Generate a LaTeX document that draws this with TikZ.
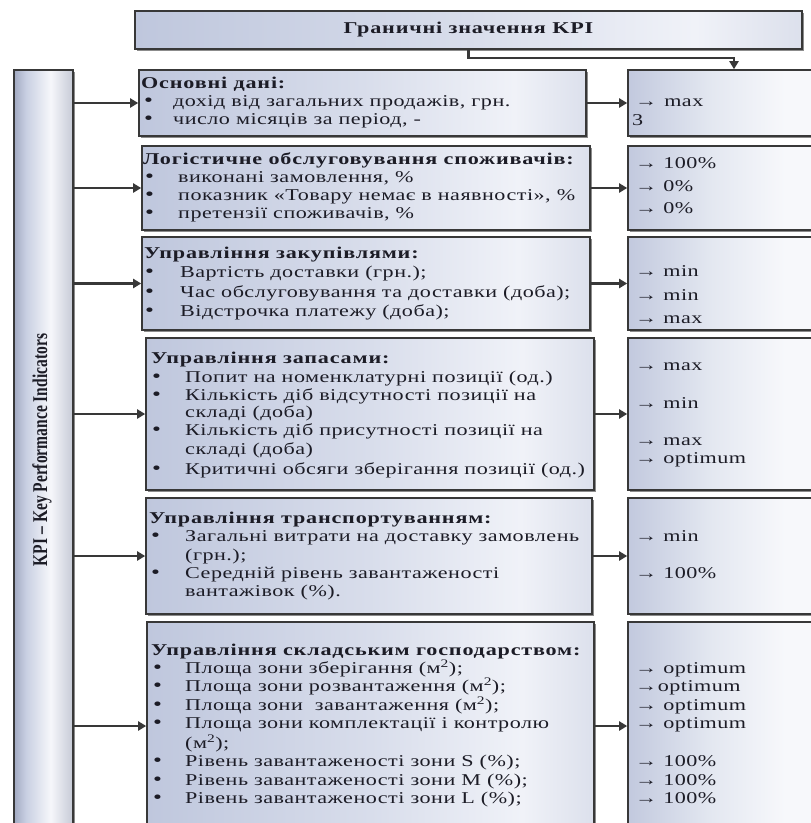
\documentclass[tikz,border=0pt]{standalone}
\usepackage{fontspec}
\setmainfont{Liberation Serif}
\newfontfamily\bxf[FakeStretch=1.34,LetterSpace=3]{Liberation Serif}
\newfontfamily\bbf[FakeStretch=1.34,LetterSpace=5]{Liberation Serif Bold}
\newfontfamily\kpif[FakeStretch=0.74]{Liberation Serif Bold}
\usetikzlibrary{arrows.meta,shadows}
\definecolor{ink}{HTML}{1C1C26}
\definecolor{edge}{HTML}{383838}
\definecolor{mA}{HTML}{BFC7DD}
\definecolor{mB}{HTML}{D8DDEB}
\definecolor{mC}{HTML}{F0F2F8}
\definecolor{mD}{HTML}{DCE0EC}
\definecolor{tA}{HTML}{A2AAC2}
\definecolor{tB}{HTML}{C8CFE2}
\definecolor{tC}{HTML}{F6F7FB}
\definecolor{tD}{HTML}{C6CAD6}
\definecolor{rA}{HTML}{C2C9DE}
\definecolor{rB}{HTML}{E4E8F1}
\definecolor{rC}{HTML}{F7F8FB}
\pgfdeclarehorizontalshading{mainsh}{100bp}{color(0bp)=(mA); color(25bp)=(mA); color(50bp)=(mB); color(67bp)=(mC); color(75bp)=(mD); color(100bp)=(mD)}
\pgfdeclarehorizontalshading{tallsh}{100bp}{color(0bp)=(tA); color(25bp)=(tA); color(35bp)=(tB); color(56bp)=(tC); color(75bp)=(tD); color(100bp)=(tD)}
\pgfdeclarehorizontalshading{rightsh}{100bp}{color(0bp)=(rA); color(25bp)=(rA); color(45bp)=(rB); color(62bp)=(rC); color(100bp)=(rC)}
\tikzset{
  box/.style={draw=edge, line width=1.6pt, shading=mainsh, inner sep=0pt,
    drop shadow={shadow xshift=1.5pt, shadow yshift=-1.5pt, opacity=0.45, fill=black}},
  tallbox/.style={box, shading=tallsh},
  rbox/.style={box, shading=rightsh},
  arr/.style={draw=edge, line width=2.2pt, -{Triangle[length=8pt,width=9pt]}},
  txt/.style={font=\bxf\fontsize{16.5}{19}\selectfont, text=ink, inner sep=0pt,
    anchor=west, text height=11pt, text depth=3.5pt},
  ttl/.style={txt, font=\bbf\fontsize{16.5}{19}\selectfont},
  bul/.style={txt, font=\bxf\fontsize{19}{19}\selectfont},
}
\begin{document}
\begin{tikzpicture}[x=1pt,y=-1pt]
\useasboundingbox (0,0) rectangle (811,823);
\clip (0,0) rectangle (811,823);
\fill[white] (0,0) rectangle (811,823);
% boxes
\node[box, minimum width=667pt, minimum height=38pt] (top) at (468.5,30) {};
\node[tallbox, minimum width=59pt, minimum height=760pt] (L) at (43.5,450) {};
\node[box, minimum width=447pt, minimum height=66pt]  (b1) at (362.5,103) {};
\node[box, minimum width=448pt, minimum height=84pt]  (b2) at (366,188) {};
\node[box, minimum width=448pt, minimum height=93pt]  (b3) at (366,283.5) {};
\node[box, minimum width=448pt, minimum height=152pt] (b4) at (370,414) {};
\node[box, minimum width=446pt, minimum height=116pt] (b5) at (369,556) {};
\node[box, minimum width=447pt, minimum height=208pt] (b6) at (370.5,726) {};
\node[rbox, minimum width=212pt, minimum height=66pt]  (r1) at (734,103) {};
\node[rbox, minimum width=212pt, minimum height=84pt]  (r2) at (734,188) {};
\node[rbox, minimum width=212pt, minimum height=93pt]  (r3) at (734,283.5) {};
\node[rbox, minimum width=212pt, minimum height=152pt] (r4) at (734,414) {};
\node[rbox, minimum width=212pt, minimum height=116pt] (r5) at (734,556) {};
\node[rbox, minimum width=212pt, minimum height=208pt] (r6) at (734,726) {};
% connectors
\draw[arr] (top.south) -- ++(0,8) -| (r1.north);
\foreach \b in {b1,b2,b3,b4,b5,b6}{
  \draw[arr] (L.east |- \b.west) -- (\b.west);
}
\foreach \i in {1,...,6}{
  \draw[arr] (b\i.east) -- (r\i.west);
}
% texts
\node[ttl, anchor=center] (toptxt) at (top) {Граничні значення KPI};
\node[rotate=90, font=\kpif\fontsize{21}{24}\selectfont, text=ink, inner sep=0pt] (kpi) at (42,450) {KPI – Key Performance Indicators};
% box 1
\node[ttl] (t1) at (141,85) {Основні дані:};
\node[bul] (t1b1) at (144,103) {•};
\node[txt] (t1a) at (173,103) {дохід від загальних продажів, грн.};
\node[bul] (t1b2) at (144,121) {•};
\node[txt] (t1c) at (173,121) {число місяців за період, -};
% box 2
\node[ttl] (t2) at (143,161) {Логістичне обслуговування споживачів:};
\node[bul] (t2b1) at (145,179) {•};
\node[txt] (t2a) at (178,179) {виконані замовлення, \%};
\node[bul] (t2b2) at (145,197) {•};
\node[txt] (t2c) at (178,197) {показник «Товару немає в наявності», \%};
\node[bul] (t2b3) at (145,215) {•};
\node[txt] (t2d) at (178,215) {претензії споживачів, \%};
% box 3
\node[ttl] (t3) at (144,255) {Управління закупівлями:};
\node[bul] (t3b1) at (145,274) {•};
\node[txt] (t3a) at (180,274) {Вартість доставки (грн.);};
\node[bul] (t3b2) at (145,294) {•};
\node[txt] (t3c) at (180,294) {Час обслуговування та доставки (доба);};
\node[bul] (t3b3) at (145,313) {•};
\node[txt] (t3d) at (180,313) {Відстрочка платежу (доба);};
% box 4
\node[ttl] (t4) at (151,360) {Управління запасами:};
\node[bul] (t4b1) at (152,379) {•};
\node[txt] (t4a) at (185,379) {Попит на номенклатурні позиції (од.)};
\node[bul] (t4b2) at (152,397) {•};
\node[txt] (t4c) at (185,397) {Кількість діб відсутності позиції на};
\node[txt] (t4d) at (185,414) {складі (доба)};
\node[bul] (t4b3) at (152,432) {•};
\node[txt] (t4e) at (185,432) {Кількість діб присутності позиції на};
\node[txt] (t4f) at (185,451) {складі (доба)};
\node[bul] (t4b4) at (152,471) {•};
\node[txt] (t4g) at (185,471) {Критичні обсяги зберігання позиції (од.)};
% box 5
\node[ttl] (t5) at (149,520) {Управління транспортуванням:};
\node[bul] (t5b1) at (151,538) {•};
\node[txt] (t5a) at (185,538) {Загальні витрати на доставку замовлень};
\node[txt] (t5c) at (185,557) {(грн.);};
\node[bul] (t5b2) at (151,575) {•};
\node[txt] (t5d) at (185,575) {Середній рівень завантаженості};
\node[txt] (t5e) at (185,593) {вантажівок (\%).};
% box 6
\node[ttl] (t6) at (151,652) {Управління складським господарством:};
\node[bul] (t6b1) at (153,670) {•};
\node[txt] (t6a) at (185,670) {Площа зони зберігання (м\textsuperscript{2});};
\node[bul] (t6b2) at (153,688) {•};
\node[txt] (t6c) at (185,688) {Площа зони розвантаження (м\textsuperscript{2});};
\node[bul] (t6b3) at (153,707) {•};
\node[txt] (t6d) at (185,707) {Площа зони \ завантаження (м\textsuperscript{2});};
\node[bul] (t6b4) at (153,725) {•};
\node[txt] (t6e) at (185,725) {Площа зони комплектації і контролю};
\node[txt] (t6f) at (185,745) {(м\textsuperscript{2});};
\node[bul] (t6b5) at (153,763) {•};
\node[txt] (t6g) at (185,763) {Рівень завантаженості зони S (\%);};
\node[bul] (t6b6) at (153,782) {•};
\node[txt] (t6h) at (185,782) {Рівень завантаженості зони M (\%);};
\node[bul] (t6b7) at (153,800) {•};
\node[txt] (t6i) at (185,800) {Рівень завантаженості зони L (\%);};
% right values
\node[txt] (v1a) at (635,103) {→\hspace{7pt}max};
\node[txt] (v1b) at (632,122) {3};
\node[txt] (v2a) at (635,165) {→ 100\%};
\node[txt] (v2b) at (635,188) {→ 0\%};
\node[txt] (v2c) at (635,210) {→ 0\%};
\node[txt] (v3a) at (635,273) {→ min};
\node[txt] (v3b) at (635,297) {→ min};
\node[txt] (v3c) at (635,320) {→ max};
\node[txt] (v4a) at (635,367) {→ max};
\node[txt] (v4b) at (635,405) {→ min};
\node[txt] (v4c) at (635,442) {→ max};
\node[txt] (v4d) at (635,460) {→ optimum};
\node[txt] (v5a) at (635,538) {→ min};
\node[txt] (v5b) at (635,575) {→ 100\%};
\node[txt] (v6a) at (635,670) {→ optimum};
\node[txt] (v6b) at (635,688) {→optimum};
\node[txt] (v6c) at (635,707) {→ optimum};
\node[txt] (v6d) at (635,725) {→ optimum};
\node[txt] (v6e) at (635,763) {→ 100\%};
\node[txt] (v6f) at (635,782) {→ 100\%};
\node[txt] (v6g) at (635,800) {→ 100\%};
\end{tikzpicture}
\end{document}
